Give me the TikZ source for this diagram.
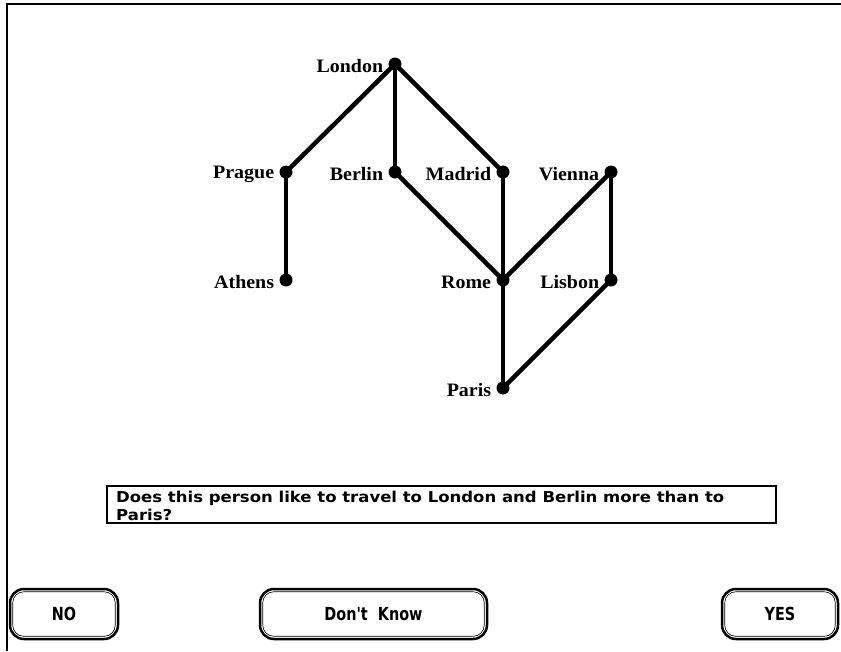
\documentclass[tikz,border=0pt]{standalone}
\usepackage{fontspec}
\usetikzlibrary{positioning}
\setmainfont{Liberation Serif}
\newfontfamily\cityfont[FakeStretch=1.05]{Liberation Serif}
\newfontfamily\uifont[FakeStretch=1.1]{DejaVu Sans}
\newfontfamily\btnfont[FakeStretch=0.8]{DejaVu Sans}
\begin{document}
\begin{tikzpicture}[x=1pt,y=-1pt,
  city/.style={circle, fill=black, inner sep=0pt, minimum size=13pt},
  road/.style={line width=4.5pt},
  lbl/.style={font=\cityfont\fontsize{19}{22}\selectfont\bfseries, inner sep=1pt, yshift=-2pt},
  btn/.style={draw, line width=2.5pt, rounded corners=14pt, minimum height=50pt,
    font=\btnfont\fontsize{18}{20}\selectfont\bfseries},
  btnin/.style={draw, line width=0.6pt, rounded corners=11pt}]
\useasboundingbox (0,0) rectangle (841,651);
% frame
\draw[line width=2pt] (7,651) -- (7,4) -- (841,4);

% cities
\node[city] (london) at (395,64) {};
\node[city] (prague) at (286,172) {};
\node[city] (berlin) at (395,172) {};
\node[city] (madrid) at (503,172) {};
\node[city] (vienna) at (611,172) {};
\node[city] (athens) at (286,280) {};
\node[city] (rome) at (503,280) {};
\node[city] (lisbon) at (611,280) {};
\node[city] (paris) at (503,388) {};

\node[lbl, left=4pt of london] {London};
\node[lbl, left=4pt of prague] {Prague};
\node[lbl, left=4pt of berlin] {Berlin};
\node[lbl, left=4pt of madrid] {Madrid};
\node[lbl, left=4pt of vienna] {Vienna};
\node[lbl, left=4pt of athens] {Athens};
\node[lbl, left=4pt of rome] {Rome};
\node[lbl, left=4pt of lisbon] {Lisbon};
\node[lbl, left=4pt of paris] {Paris};

\draw[road] (london.center) -- (prague.center);
\draw[road] (london.center) -- (berlin.center);
\draw[road] (london.center) -- (madrid.center);
\draw[road] (prague.center) -- (athens.center);
\draw[road] (berlin.center) -- (rome.center);
\draw[road] (madrid.center) -- (rome.center);
\draw[road] (vienna.center) -- (rome.center);
\draw[road] (vienna.center) -- (lisbon.center);
\draw[road] (rome.center) -- (paris.center);
\draw[road] (lisbon.center) -- (paris.center);

% question
\node[draw, line width=2pt, minimum width=669pt, minimum height=37pt, anchor=north west,
  inner sep=0pt] (question) at (106,485) {};
\node[anchor=north west, align=left, inner sep=0pt,
  font=\uifont\fontsize{15}{18}\selectfont\bfseries] (qtext) at (116,491)
  {Does this person like to travel to London and Berlin more than to\\Paris?};

% buttons
\node[btn, minimum width=108pt] (no) at (64,614) {NO};
\node[btn, minimum width=227pt] (dontknow) at (373.5,614) {Don't\ \ Know};
\node[btn, minimum width=116pt] (yes) at (780,614) {YES};
\foreach \b in {no,dontknow,yes}
  \draw[btnin] ([shift={(4pt,-4pt)}]\b.north west) rectangle ([shift={(-4pt,4pt)}]\b.south east);
\end{tikzpicture}
\end{document}
